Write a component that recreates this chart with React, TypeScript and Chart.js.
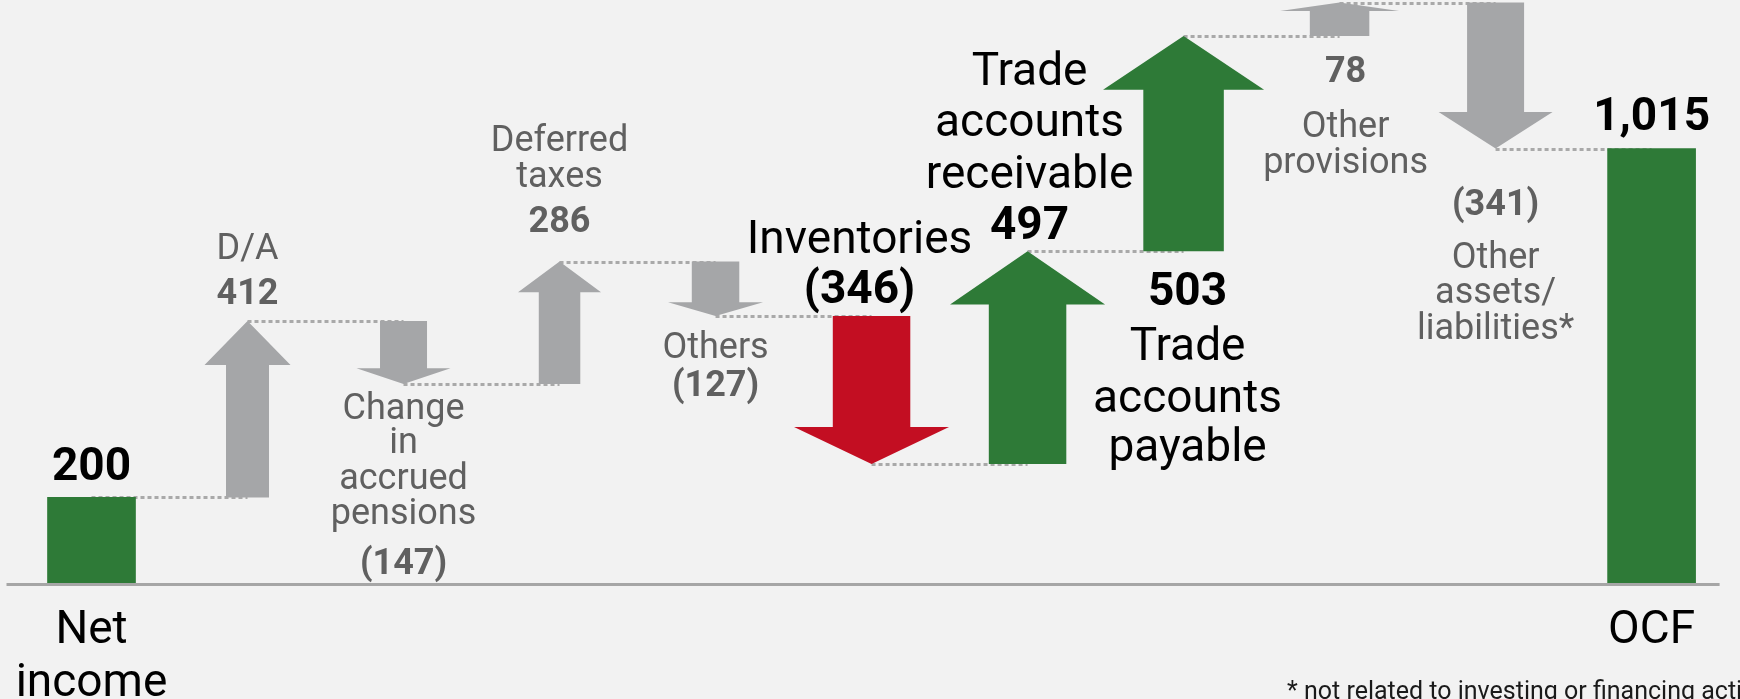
import { useEffect, useRef } from "react";
import { Chart, registerables } from "chart.js";

Chart.register(...registerables);

// ---------- DATA ----------
const categories: string[][] = [
  ["Net", "income"],
  ["D/A"],
  ["Change", "in", "accrued", "pensions"],
  ["Deferred", "taxes"],
  ["Others"],
  ["Inventories"],
  ["Trade", "accounts", "receivable"],
  ["Trade", "accounts", "payable"],
  ["Other", "provisions"],
  ["Other", "assets/", "liabilities*"],
  ["OCF"],
];
const values: number[] = [200, 412, -147, 286, -127, -346, 497, 503, 78, -341, 1015];
const isTotal: boolean[] = [true, false, false, false, false, false, false, false, false, false, true];
const footnote = "* not related to investing or financing activities";

// ---------- STYLE ----------
const BG = "#f2f2f2";
const GREEN = "#2e7a37";
const RED = "#c30e22";
const GRAY = "#a5a6a8";
const GRAY_TEXT = "#606060";
const BLACK = "#000000";
const CONNECTOR = "#a9a9a9";
const AXIS = "#a6a6a6";
const FONT = "Roboto, 'Noto Sans', sans-serif";

type Item = {
  fill: string;
  head: number; // arrow head width in px
  text: string;
  size: number;
  anchor: "start" | "end";
  order: "value" | "nameValue" | "valueName";
  offsets: number[]; // baseline offsets relative to anchor level, px
  dx: number;
};

const itemStyle: Item[] = [
  { fill: GREEN, head: 0, text: BLACK, size: 46, anchor: "end", order: "value", offsets: [-17], dx: 0 },
  { fill: GRAY, head: 86, text: GRAY_TEXT, size: 36, anchor: "end", order: "nameValue", offsets: [-62, -17], dx: 0 },
  { fill: GRAY, head: 94, text: GRAY_TEXT, size: 36, anchor: "end", order: "nameValue", offsets: [35, 69, 105, 140, 190], dx: 0 },
  { fill: GRAY, head: 83, text: GRAY_TEXT, size: 36, anchor: "end", order: "nameValue", offsets: [-111, -75, -30], dx: 0 },
  { fill: GRAY, head: 95, text: GRAY_TEXT, size: 36, anchor: "end", order: "nameValue", offsets: [42, 80], dx: 0 },
  { fill: RED, head: 155, text: BLACK, size: 46, anchor: "start", order: "nameValue", offsets: [-63, -13], dx: -12 },
  { fill: GREEN, head: 155, text: BLACK, size: 46, anchor: "end", order: "nameValue", offsets: [-166, -115, -63, -12], dx: 2 },
  { fill: GREEN, head: 161, text: BLACK, size: 46, anchor: "start", order: "valueName", offsets: [54, 109, 161, 210], dx: 4 },
  { fill: GRAY, head: 119, text: GRAY_TEXT, size: 36, anchor: "start", order: "valueName", offsets: [46, 101, 137], dx: 6 },
  { fill: GRAY, head: 114, text: GRAY_TEXT, size: 36, anchor: "end", order: "valueName", offsets: [66, 119, 154, 190], dx: 0 },
  { fill: GREEN, head: 0, text: BLACK, size: 46, anchor: "end", order: "value", offsets: [-19], dx: 0 },
];

// ---------- DERIVED ----------
const starts: number[] = [];
const ends: number[] = [];
{
  let run = 0;
  values.forEach((v, i) => {
    if (isTotal[i]) {
      starts.push(0);
      ends.push(v);
      run = v;
    } else {
      starts.push(run);
      run += v;
      ends.push(run);
    }
  });
}

const fmt = (v: number, total: boolean) =>
  total || v >= 0 ? v.toLocaleString("en-US") : `(${Math.abs(v).toLocaleString("en-US")})`;

const waterfallPlugin = {
  id: "waterfallArrows",
  beforeDatasetsDraw(chart: any) {
    const ctx = chart.ctx as CanvasRenderingContext2D;
    const xs = chart.scales.x;
    const ys = chart.scales.y;
    const area = chart.chartArea;
    ctx.save();
    const y0 = ys.getPixelForValue(0);
    ctx.strokeStyle = AXIS;
    ctx.lineWidth = 3;
    ctx.beginPath();
    ctx.moveTo(area.left - 7, y0 + 1.5);
    ctx.lineTo(area.right - 10, y0 + 1.5);
    ctx.stroke();
    ctx.strokeStyle = CONNECTOR;
    ctx.lineWidth = 3;
    ctx.setLineDash([4, 3]);
    for (let i = 0; i < values.length - 1; i++) {
      const yl = Math.round(ys.getPixelForValue(ends[i])) + 0.5;
      ctx.beginPath();
      ctx.moveTo(xs.getPixelForValue(i), yl);
      ctx.lineTo(xs.getPixelForValue(i + 1), yl);
      ctx.stroke();
    }
    ctx.restore();
  },
  afterDatasetsDraw(chart: any) {
    const ctx = chart.ctx as CanvasRenderingContext2D;
    const xs = chart.scales.x;
    const ys = chart.scales.y;
    ctx.save();
    values.forEach((_, i) => {
      if (isTotal[i]) return;
      const st = itemStyle[i];
      const xc = xs.getPixelForValue(i);
      const yS = ys.getPixelForValue(starts[i]);
      const yE = ys.getPixelForValue(ends[i]);
      const L = yE - yS;
      const dir = Math.sign(L);
      const headH = Math.abs(L) * 0.25;
      const yHead = yE - dir * headH;
      const hw = st.head / 2;
      const sw = st.head / 4;
      ctx.fillStyle = st.fill;
      ctx.beginPath();
      ctx.moveTo(xc - sw, yS);
      ctx.lineTo(xc - sw, yHead);
      ctx.lineTo(xc - hw, yHead);
      ctx.lineTo(xc, yE);
      ctx.lineTo(xc + hw, yHead);
      ctx.lineTo(xc + sw, yHead);
      ctx.lineTo(xc + sw, yS);
      ctx.closePath();
      ctx.fill();
    });
    ctx.restore();
  },
  afterDraw(chart: any) {
    const ctx = chart.ctx as CanvasRenderingContext2D;
    const xs = chart.scales.x;
    const ys = chart.scales.y;
    const y0 = ys.getPixelForValue(0);
    ctx.save();
    ctx.textAlign = "center";
    ctx.textBaseline = "alphabetic";
    values.forEach((v, i) => {
      const st = itemStyle[i];
      const xc = xs.getPixelForValue(i) + st.dx;
      const anchorY = ys.getPixelForValue(st.anchor === "start" ? starts[i] : ends[i]);
      const valueText = fmt(v, isTotal[i]);
      const lines: { t: string; bold: boolean }[] = [];
      const names = categories[i].map((t) => ({ t, bold: false }));
      if (st.order === "value") lines.push({ t: valueText, bold: true });
      else if (st.order === "nameValue") lines.push(...names, { t: valueText, bold: true });
      else lines.push({ t: valueText, bold: true }, ...names);
      ctx.fillStyle = st.text;
      lines.forEach((ln, k) => {
        ctx.font = `${ln.bold ? "bold " : ""}${st.size}px ${FONT}`;
        ctx.fillText(ln.t, xc, anchorY + st.offsets[k]);
      });
      if (isTotal[i]) {
        ctx.fillStyle = BLACK;
        ctx.font = `46px ${FONT}`;
        categories[i].forEach((t, k) => {
          ctx.fillText(t, xs.getPixelForValue(i), y0 + 60 + k * 53);
        });
      }
    });
    ctx.textAlign = "left";
    ctx.fillStyle = "#1a1a1a";
    ctx.font = `25px ${FONT}`;
    ctx.fillText(footnote, 1287, 699);
    ctx.restore();
  },
};

export default function App() {
  const ref = useRef<HTMLCanvasElement | null>(null);
  useEffect(() => {
    if (!ref.current) return;
    const chart = new Chart(ref.current, {
      type: "bar",
      data: {
        labels: categories.map((c) => c.join(" ")),
        datasets: [
          {
            label: "totals",
            data: values.map((v, i) => (isTotal[i] ? v : null)) as any,
            backgroundColor: GREEN,
            barThickness: 88,
            grouped: false,
          } as any,
          {
            label: "changes",
            data: values.map((_, i) => (isTotal[i] ? null : [starts[i], ends[i]])) as any,
            backgroundColor: "rgba(0,0,0,0)",
            barThickness: 80,
            grouped: false,
          } as any,
        ],
      },
      options: {
        responsive: false,
        animation: false,
        events: [],
        layout: { padding: { left: 13.5, right: 10.4, top: 0, bottom: 116 } },
        plugins: { legend: { display: false }, tooltip: { enabled: false }, title: { display: false } },
        scales: {
          x: { display: false, offset: true },
          y: { display: false, min: 0, max: 1362 },
        },
      },
      plugins: [waterfallPlugin],
    });
    let alive = true;
    if ((document as any).fonts) {
      Promise.all([
        (document as any).fonts.load(`36px Roboto`),
        (document as any).fonts.load(`bold 36px Roboto`),
      ])
        .then(() => {
          if (alive) chart.draw();
        })
        .catch(() => {});
    }
    return () => {
      alive = false;
      chart.destroy();
    };
  }, []);
  return (
    <div
      style={{
        position: "fixed",
        left: 0,
        top: 0,
        width: 1740,
        height: 699,
        background: BG,
        overflow: "hidden",
      }}
    >
      <canvas ref={ref} width={1740} height={699} style={{ display: "block", width: 1740, height: 699 }} />
    </div>
  );
}
